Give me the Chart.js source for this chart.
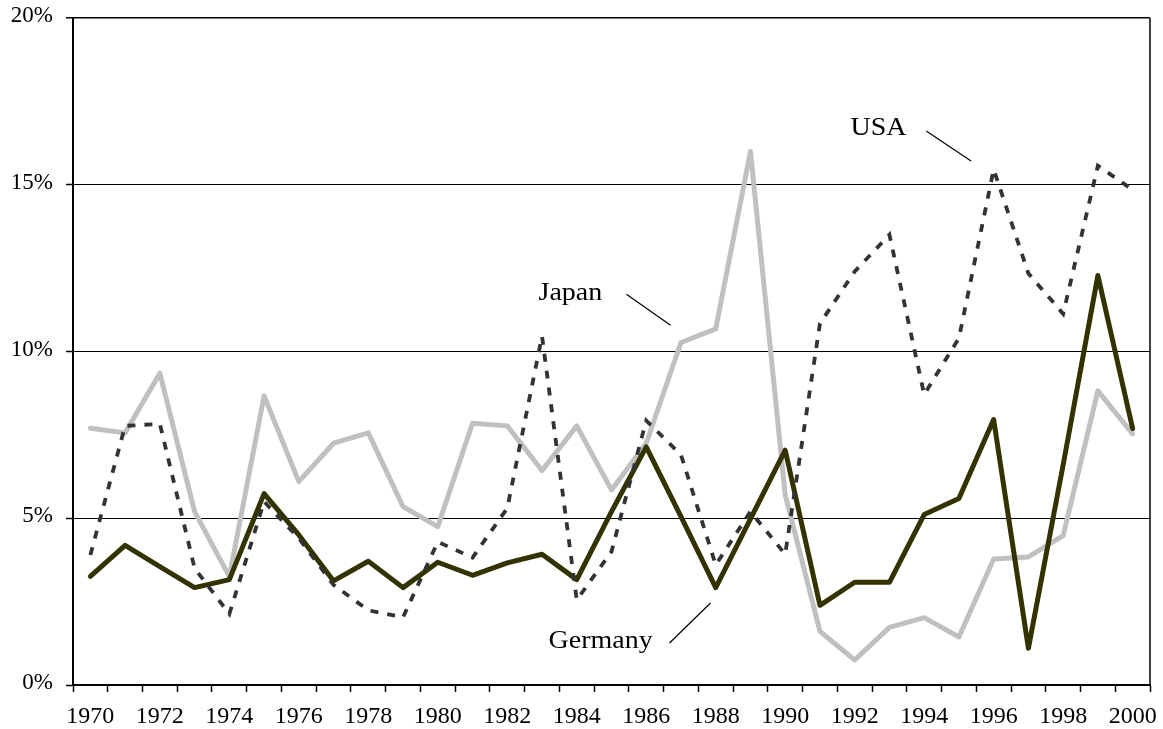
<!DOCTYPE html>
<html>
<head>
<meta charset="utf-8">
<script src="https://cdn.jsdelivr.net/npm/chart.js@4/dist/chart.umd.min.js"></script>
<style>
  html, body { margin: 0; padding: 0; background: #fff; }
  #wrap { width: 1163px; height: 729px; }
</style>
</head>
<body>
<div id="wrap"><canvas id="chart"></canvas></div>
<script>
const years = ['1970','1971','1972','1973','1974','1975','1976','1977','1978','1979',
  '1980','1981','1982','1983','1984','1985','1986','1987','1988','1989',
  '1990','1991','1992','1993','1994','1995','1996','1997','1998','1999','2000'];

const usa = [3.9, 7.77, 7.83, 3.5, 2.13, 5.5, 4.4, 3.0, 2.24, 2.03,
  4.29, 3.82, 5.3, 10.46, 2.55, 4.0, 7.93, 6.9, 3.6, 5.2,
  3.92, 10.84, 12.4, 13.5, 8.71, 10.4, 15.46, 12.34, 11.13, 15.57, 14.85];

const japan = [7.7, 7.56, 9.35, 5.2, 3.25, 8.67, 6.1, 7.25, 7.56, 5.35,
  4.75, 7.85, 7.77, 6.43, 7.77, 5.85, 7.25, 10.27, 10.68, 16.0,
  5.7, 1.61, 0.75, 1.73, 2.02, 1.44, 3.78, 3.84, 4.48, 8.82, 7.53];

const germany = [3.26, 4.19, 3.55, 2.92, 3.16, 5.74, 4.5, 3.12, 3.71, 2.92,
  3.68, 3.29, 3.66, 3.92, 3.16, 5.2, 7.14, 5.05, 2.92, 4.98,
  7.04, 2.39, 3.08, 3.08, 5.11, 5.59, 7.96, 1.1, 6.6, 12.28, 7.69];

const yTicks = [0, 5, 10, 15, 20];

const serif = "'Liberation Serif', 'Times New Roman', serif";

// series labels with leader lines, placed in (category index, value) space
const callouts = [
  { text: 'USA', at: [21.88, 16.49], line: [[24.06, 16.61], [25.35, 15.71]] },
  { text: 'Japan', at: [12.90, 11.54], line: [[15.43, 11.72], [16.70, 10.79]] },
  { text: 'Germany', at: [13.19, 1.11], line: [[16.67, 1.26], [17.85, 2.46]] }
];

const extras = {
  id: 'extras',
  afterDraw(chart) {
    const { ctx, chartArea, scales } = chart;
    ctx.save();
    // right frame line
    ctx.strokeStyle = '#000';
    ctx.lineWidth = 1.5;
    ctx.beginPath();
    ctx.moveTo(chartArea.right, chartArea.top);
    ctx.lineTo(chartArea.right, chartArea.bottom);
    ctx.stroke();

    ctx.fillStyle = '#000';
    ctx.font = '25px ' + serif;
    ctx.textBaseline = 'alphabetic';
    ctx.textAlign = 'left';
    ctx.lineWidth = 1.2;
    callouts.forEach(c => {
      const tx = scales.x.getPixelForValue(c.at[0]);
      const ty = scales.y.getPixelForValue(c.at[1]);
      ctx.save();
      ctx.translate(tx, ty);
      ctx.scale(1.12, 1);
      ctx.fillText(c.text, 0, 0);
      ctx.restore();
      ctx.beginPath();
      ctx.moveTo(scales.x.getPixelForValue(c.line[0][0]), scales.y.getPixelForValue(c.line[0][1]));
      ctx.lineTo(scales.x.getPixelForValue(c.line[1][0]), scales.y.getPixelForValue(c.line[1][1]));
      ctx.stroke();
    });
    ctx.restore();
  }
};

new Chart(document.getElementById('chart'), {
  type: 'line',
  data: {
    labels: years,
    datasets: [
      {
        label: 'USA',
        data: usa,
        borderColor: '#333333',
        borderWidth: 3.8,
        borderDash: [8, 9],
        borderCapStyle: 'butt',
        order: 0
      },
      {
        label: 'Germany',
        data: germany,
        borderColor: '#333300',
        borderWidth: 5,
        borderJoinStyle: 'round',
        borderCapStyle: 'round',
        order: 1
      },
      {
        label: 'Japan',
        data: japan,
        borderColor: '#c0c0c0',
        borderWidth: 5,
        borderJoinStyle: 'round',
        borderCapStyle: 'round',
        order: 2
      }
    ]
  },
  options: {
    responsive: true,
    maintainAspectRatio: false,
    animation: false,
    layout: { padding: { top: 18, right: 13, left: 0, bottom: 0 } },
    elements: { point: { radius: 0 }, line: { tension: 0, fill: false } },
    plugins: { legend: { display: false }, tooltip: { enabled: false } },
    scales: {
      x: {
        offset: true,
        grid: {
          offset: true,
          drawOnChartArea: false,
          tickLength: 7,
          tickColor: '#000',
          tickWidth: 1.5
        },
        border: { display: true, color: '#000', width: 2 },
        ticks: {
          autoSkip: false,
          minRotation: 0,
          maxRotation: 0,
          padding: 10,
          color: '#000',
          font: { family: serif, size: 24 },
          callback: (v, i) => (i % 2 === 0 ? years[i] : '')
        },
        afterFit: s => { s.height = 44; s.paddingLeft = 0; s.paddingRight = 0; }
      },
      y: {
        min: 0,
        max: 20,
        afterBuildTicks: s => { s.ticks = yTicks.map(v => ({ value: v })); },
        grid: {
          color: '#000',
          lineWidth: c => (c.tick && c.tick.value === 20 ? 1.5 : 1),
          tickLength: 7,
          tickColor: '#000',
          tickWidth: 1.5
        },
        border: { display: true, color: '#000', width: 2 },
        ticks: {
          padding: 13,
          labelOffset: -2,
          color: '#000',
          font: { family: serif, size: 23 },
          callback: v => v + '%'
        },
        afterFit: s => { s.width = 73; s.paddingTop = 0; s.paddingBottom = 0; }
      }
    }
  },
  plugins: [extras]
});
</script>
</body>
</html>
